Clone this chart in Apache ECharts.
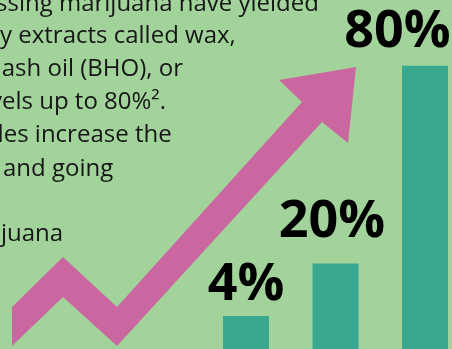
<!DOCTYPE html>
<html>
<head>
<meta charset="utf-8">
<script src="https://cdn.jsdelivr.net/npm/echarts@6/dist/echarts.min.js"></script>
<style>
html,body{margin:0;padding:0;background:#a2d39b;}
#chart{width:452px;height:349px;}
</style>
</head>
<body>
<div id="chart"></div>
<script>
// Data
const categories = ['Earlier', 'Recent', 'Extracts'];
const values = [4, 20, 80];
const textLines = [
  'ssing marijuana have yielded',
  'y extracts called wax,',
  'hash oil (BHO), or',
  'vels up to 80%\u00B2.',
  'des increase the',
  'and going',
  'juana'
];

// Styling (kept apart from the data)
const lineX = [-4, 0, -13, -10, -11, 3, 1];
const lineBase = [11, 43.5, 76, 109, 142, 176, 241];
const labelDx = [0, -3.5, -27.5];
const labelDist = [5, 15, 8];

const bodyFont = '24px "Open Sans"';

const chart = echarts.init(document.getElementById('chart'), null, {renderer: 'canvas'});

const textGraphics = textLines.map((t, i) => ({
  type: 'text',
  x: lineX[i],
  y: lineBase[i] - 7,
  z: 1,
  style: {
    text: t,
    font: bodyFont,
    fill: '#161616',
    align: 'left',
    verticalAlign: 'middle'
  }
}));

const arrow = {
  type: 'polygon',
  z: 2,
  shape: {
    points: [[12,307],[63,257],[117,307],[302,102],[279,80],[356,67],[348,143],[322,122],[117,346],[63,297],[12,346]]
  },
  style: { fill: '#ca67a0' }
};

chart.setOption({
  backgroundColor: '#a2d39b',
  animation: false,
  grid: { left: 246, right: 27, top: 0, bottom: 0, containLabel: false },
  xAxis: {
    type: 'category',
    data: categories,
    boundaryGap: false,
    show: false
  },
  yAxis: {
    type: 'value',
    min: -6,
    max: 100,
    startValue: -6,
    show: false,
    splitLine: { show: false }
  },
  graphic: textGraphics.concat([arrow]),
  series: [{
    type: 'bar',
    barWidth: 46,
    clip: false,
    itemStyle: { color: '#3aa88f' },
    label: {
      show: true,
      position: 'top',
      formatter: '{c}%',
      fontFamily: 'Open Sans',
      fontWeight: 'bold',
      fontSize: 52,
      color: '#000'
    },
    data: values.map((v, i) => ({
      value: v,
      label: { offset: [labelDx[i], 0], distance: labelDist[i] }
    }))
  }]
});
</script>
</body>
</html>
